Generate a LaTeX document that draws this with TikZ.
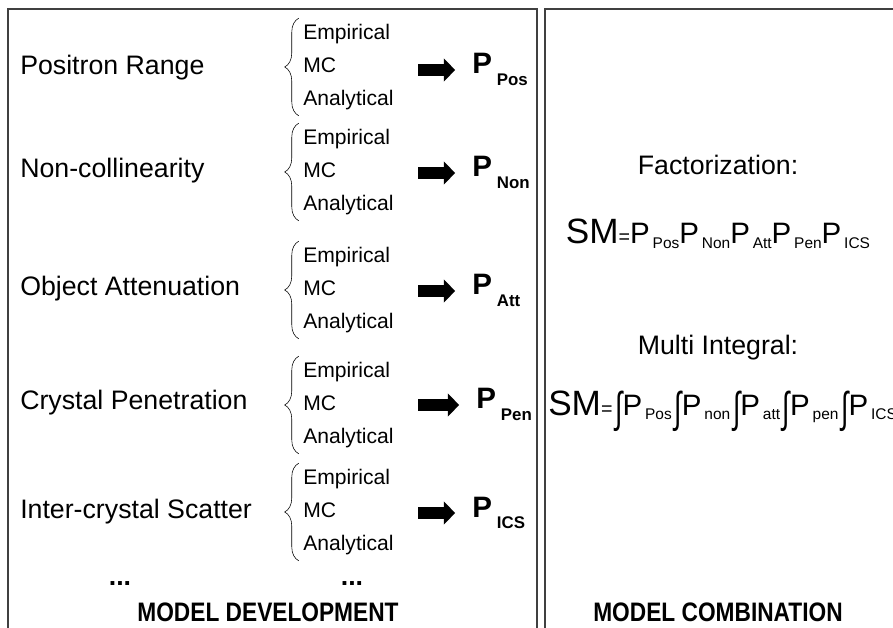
\documentclass[tikz,border=0pt]{standalone}
\usepackage{fontspec}
\setmainfont{Liberation Sans}
\usepackage{graphicx}
\usetikzlibrary{arrows.meta,positioning,decorations.pathreplacing}

% subscript of a probability term
\newcommand{\lowsub}[1]{\hspace{3.5pt}\raisebox{-8pt}{\fontsize{12}{14}\selectfont #1}}
\newcommand{\pterm}[1]{{\fontsize{21}{24}\selectfont P}\hspace{2pt}\raisebox{-3pt}{\fontsize{11}{13}\selectfont #1}}
\newcommand{\intsign}{\hspace{2pt}\raisebox{-5pt}{\scalebox{1}[1.6]{\fontsize{19}{22}\selectfont ∫}}}

\begin{document}
\begin{tikzpicture}[x=0.025cm, y=-0.025cm,
  frame/.style={draw=black!75, line width=0.9pt},
  effect/.style={anchor=base west, inner sep=0pt, font=\fontsize{19}{22}\selectfont},
  methods/.style={anchor=west, align=left, inner xsep=0pt, inner ysep=4pt,
                  font=\fontsize{15}{23.5}\selectfont},
  bracel/.style={decorate, decoration={brace, amplitude=10pt}, thin},
  blockarr/.style={-{Triangle[length=8pt, width=16pt]}, line width=8.5pt, shorten >=12pt},
  prob/.style={anchor=base west, inner sep=0pt, font=\fontsize{21}{24}\selectfont\bfseries},
  formula/.style={inner sep=0pt, font=\fontsize{19}{22}\selectfont},
  heading/.style={inner sep=0pt, font=\fontsize{19}{21}\selectfont\bfseries}
]
  \useasboundingbox (0,0) rectangle (893,628);

  % panels
  \draw[frame] (8,640) -- (8,9) -- (537,9) -- (537,640);
  \draw[frame] (545,640) -- (545,9) -- (900,9);

  % model development
  \node[effect] (pos) at (20,75)  {Positron Range};
  \node[effect] (non) at (20,178) {Non-collinearity};
  \node[effect] (att) at (20,296) {Object Attenuation};
  \node[effect] (pen) at (20,410) {Crystal Penetration};
  \node[effect] (ics) at (20,518) {Inter-crystal Scatter};

  \node[methods] (mPos) at (303,67)  {Empirical\\MC\\Analytical};
  \node[methods] (mNon) at (303,172) {Empirical\\MC\\Analytical};
  \node[methods] (mAtt) at (303,290) {Empirical\\MC\\Analytical};
  \node[methods] (mPen) at (303,405) {Empirical\\MC\\Analytical};
  \node[methods] (mIcs) at (303,512) {Empirical\\MC\\Analytical};

  \draw[bracel] ([xshift=-3pt]mPos.south west) -- ([xshift=-3pt]mPos.north west);
  \draw[bracel] ([xshift=-3pt]mNon.south west) -- ([xshift=-3pt]mNon.north west);
  \draw[bracel] ([xshift=-3pt]mAtt.south west) -- ([xshift=-3pt]mAtt.north west);
  \draw[bracel] ([xshift=-3pt]mPen.south west) -- ([xshift=-3pt]mPen.north west);
  \draw[bracel] ([xshift=-3pt]mIcs.south west) -- ([xshift=-3pt]mIcs.north west);

  \node[prob] (pPos) at (472,74)  {P\lowsub{Pos}};
  \node[prob] (pNon) at (472,177) {P\lowsub{Non}};
  \node[prob] (pAtt) at (472,295) {P\lowsub{Att}};
  \node[prob] (pPen) at (476,409) {P\lowsub{Pen}};
  \node[prob] (pIcs) at (472,517) {P\lowsub{ICS}};

  \coordinate (aPos) at (418,70);
  \coordinate (aNon) at (418,173);
  \coordinate (aAtt) at (418,291);
  \coordinate (aPen) at (418,405);
  \coordinate (aIcs) at (418,513);

  \draw[blockarr] (aPos) -- (aPos -| pPos.west);
  \draw[blockarr] (aNon) -- (aNon -| pNon.west);
  \draw[blockarr] (aAtt) -- (aAtt -| pAtt.west);
  \draw[blockarr] (aPen) -- (aPen -| pPen.west);
  \draw[blockarr] (aIcs) -- (aIcs -| pIcs.west);

  \node[heading] (dots1) at (120,584) {...};
  \node[heading] (dots2) at (352,584) {...};
  \node[heading] (dev) at (268,612) {\scalebox{0.85}[1]{MODEL DEVELOPMENT}};

  % model combination
  \node[formula] (fact) at (718,165) {Factorization:};
  \node[formula, anchor=base] (sm1) at (718,244)
    {{\fontsize{25}{28}\selectfont SM}{\fontsize{14}{16}\selectfont =}\pterm{Pos}\pterm{Non}\pterm{Att}\pterm{Pen}\pterm{ICS}};
  \node[formula] (multi) at (718,348) {Multi Integral:};
  \node[formula, anchor=base west] (sm2) at (548,415)
    {{\fontsize{25}{28}\selectfont SM}{\fontsize{14}{16}\selectfont =}\intsign\pterm{Pos}\intsign\pterm{non}\intsign\pterm{att}\intsign\pterm{pen}\intsign\pterm{ICS}};
  \node[heading] (comb) at (718,612) {\scalebox{0.85}[1]{MODEL COMBINATION}};
\end{tikzpicture}
\end{document}
